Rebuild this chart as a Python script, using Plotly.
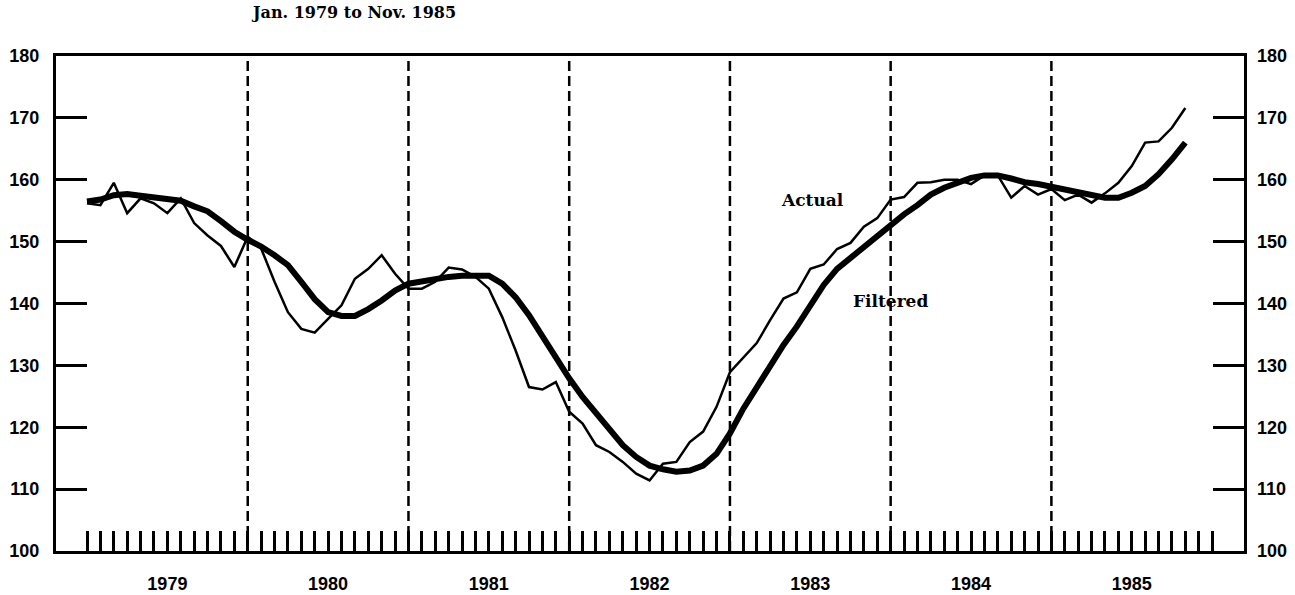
import plotly.graph_objects as go

# Monthly data, Jan 1979 (index 0) to Nov 1985 (index 82)
actual = [156.2, 155.9, 159.5, 154.6, 157.0, 156.2, 154.6, 157.0, 153.0, 151.0,
          149.3, 145.9, 150.8, 148.9, 143.5, 138.6, 135.9, 135.3, 137.5, 139.7,
          144.0, 145.6, 147.8, 144.8, 142.4, 142.4, 143.5, 145.8, 145.5, 144.3,
          142.4, 137.8, 132.4, 126.5, 126.1, 127.3, 122.5, 120.6, 117.1, 116.0,
          114.4, 112.5, 111.4, 114.1, 114.4, 117.6, 119.3, 123.3, 128.9, 131.3,
          133.6, 137.3, 140.8, 141.8, 145.6, 146.3, 148.8, 149.8, 152.4, 153.8,
          156.8, 157.2, 159.5, 159.6, 160.0, 160.0, 159.3, 160.7, 160.7, 157.1,
          159.0, 157.6, 158.5, 156.7, 157.6, 156.3, 157.8, 159.5, 162.2, 166.0,
          166.2, 168.4, 171.6]

filtered = [156.5, 156.8, 157.5, 157.7, 157.4, 157.1, 156.8, 156.6, 155.7, 154.9,
            153.3, 151.6, 150.3, 149.2, 147.8, 146.2, 143.5, 140.7, 138.6, 138.0,
            138.0, 139.1, 140.5, 142.1, 143.2, 143.6, 143.8, 144.3, 144.5, 144.6,
            144.5, 143.2, 141.0, 138.1, 134.6, 131.3, 127.9, 124.9, 122.2, 119.5,
            117.1, 115.2, 113.8, 113.2, 112.8, 113.0, 113.8, 115.7, 119.0, 123.0,
            126.5, 130.0, 133.3, 136.3, 139.5, 143.0, 145.6, 147.4, 149.3, 151.1,
            152.7, 154.4, 155.9, 157.6, 158.7, 159.5, 160.3, 160.7, 160.7, 160.2,
            159.6, 159.3, 158.9, 158.4, 157.9, 157.5, 157.1, 157.1, 157.9, 159.0,
            160.9, 163.3, 166.0]

years = ["1979", "1980", "1981", "1982", "1983", "1984", "1985"]
y_ticks = [100, 110, 120, 130, 140, 150, 160, 170, 180]
title_text = "Jan. 1979 to Nov. 1985"

months = list(range(len(actual)))
month_ticks = list(range(0, 85))
month_text = [""] * len(month_ticks)
for i, yr in enumerate(years):
    month_text[6 + 12 * i] = yr
year_starts = [12 * i for i in range(1, len(years))]

fig = go.Figure()
fig.add_trace(go.Scatter(x=months, y=actual, mode="lines",
                         line=dict(color="black", width=2.5), name="Actual",
                         showlegend=False))
fig.add_trace(go.Scatter(x=months, y=filtered, mode="lines",
                         line=dict(color="black", width=6), name="Filtered",
                         showlegend=False))
# invisible trace for right axis
fig.add_trace(go.Scatter(x=[0], y=[140], yaxis="y2", mode="markers",
                         marker=dict(opacity=0), showlegend=False, hoverinfo="skip"))

for xs in year_starts:
    fig.add_shape(type="line", x0=xs, x1=xs, y0=100, y1=180, xref="x", yref="y",
                  line=dict(color="black", width=2.5, dash="10px,5px"), layer="below")

tickfont = dict(family="Liberation Sans", size=18, color="black", weight="bold")

fig.update_layout(
    width=1295, height=595,
    margin=dict(l=56, r=51, t=56, b=44, autoexpand=False),
    paper_bgcolor="white", plot_bgcolor="white",
    xaxis=dict(range=[-2.315, 86.38], tickmode="array", tickvals=month_ticks,
               ticktext=month_text, ticks="inside", ticklen=20, tickwidth=2.5,
               tickcolor="black", showline=True, linewidth=3, linecolor="black",
               mirror=True, showgrid=False, zeroline=False, tickfont=tickfont,
               ticklabelstandoff=14, automargin=False),
    yaxis=dict(range=[100, 180], tickmode="array", tickvals=y_ticks,
               ticks="inside", ticklen=31, tickwidth=3, tickcolor="black",
               showline=True, linewidth=3, linecolor="black", mirror=True,
               showgrid=False, zeroline=False, tickfont=tickfont,
               ticklabelstandoff=10, automargin=False),
    yaxis2=dict(range=[100, 180], tickmode="array", tickvals=y_ticks,
                overlaying="y", side="right", anchor="x",
                ticks="inside", ticklen=31, tickwidth=3, tickcolor="black",
                showline=False, showgrid=False, zeroline=False, tickfont=tickfont,
                ticklabelstandoff=12, automargin=False),
    annotations=[
        dict(text=title_text, xref="paper", yref="paper", x=(353 - 56) / 1188,
             y=1 + (56 - 12) / 495, showarrow=False, xanchor="center", yanchor="middle",
             font=dict(family="DejaVu Serif", size=16, color="black", weight="bold")),
        dict(text="Actual", x=54.2, y=156.8, xref="x", yref="y", showarrow=False,
             font=dict(family="DejaVu Serif", size=17, color="black", weight="bold")),
        dict(text="Filtered", x=60.0, y=140.4, xref="x", yref="y", showarrow=False,
             font=dict(family="DejaVu Serif", size=17, color="black", weight="bold")),
    ],
)

fig.write_html("out.html", config={"displayModeBar": False},
               post_script="document.body.style.margin='0';document.body.style.overflow='hidden';")
